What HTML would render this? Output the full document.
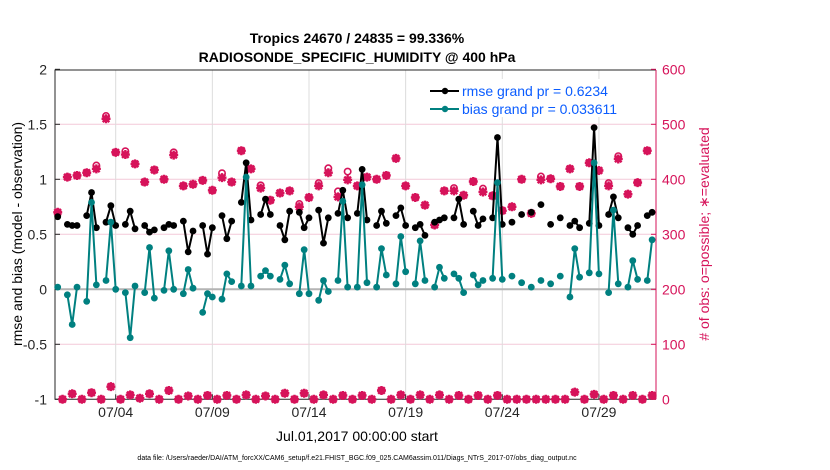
<!DOCTYPE html>
<html><head><meta charset="utf-8"><style>
body{margin:0;background:#fff;}
svg{display:block;font-family:"Liberation Sans",sans-serif;}
</style></head><body>
<svg id="chart" width="830" height="470" viewBox="0 0 830 470">
<text x="357" y="43" text-anchor="middle" font-size="14" font-weight="bold">Tropics 24670 / 24835 = 99.336%</text>
<text x="357" y="62" text-anchor="middle" font-size="14" font-weight="bold">RADIOSONDE_SPECIFIC_HUMIDITY @ 400 hPa</text>
<g id="grid"></g>
<g id="axes"></g>
<g id="marks"></g>
<text transform="translate(22,234) rotate(-90)" text-anchor="middle" font-size="14">rmse and bias (model - observation)</text>
<text transform="translate(709,234) rotate(-90)" text-anchor="middle" font-size="14" fill="#d6135a"># of obs: o=possible; ∗=evaluated</text>
<text x="357" y="441" text-anchor="middle" font-size="14">Jul.01,2017 00:00:00 start</text>
<text x="357" y="460" text-anchor="middle" font-size="7">data file: /Users/raeder/DAI/ATM_forcXX/CAM6_setup/f.e21.FHIST_BGC.f09_025.CAM6assim.011/Diags_NTrS_2017-07/obs_diag_output.nc</text>
<g>
<rect x="424" y="79" width="230" height="38" fill="#fff"/>
<line x1="430" y1="91" x2="459" y2="91" stroke="#000" stroke-width="2"/>
<circle cx="445" cy="91" r="3.2" fill="#000"/>
<text x="462" y="96" font-size="14" fill="#0a5cff">rmse grand pr = 0.6234</text>
<line x1="430" y1="109" x2="459" y2="109" stroke="#008080" stroke-width="2"/>
<circle cx="445" cy="109" r="3.2" fill="#008080"/>
<text x="462" y="114" font-size="14" fill="#0a5cff">bias grand pr = 0.033611</text>
</g>
</svg>
<script>
const N = null;
const rmse = [0.66,N,0.59,0.58,0.58,N,0.67,0.88,0.56,N,0.61,0.76,0.58,N,0.59,0.71,0.55,N,0.58,0.52,0.54,N,0.56,0.59,0.58,N,0.62,0.34,0.53,N,0.58,0.32,0.56,N,0.67,0.46,0.62,N,0.79,1.15,0.63,N,0.68,0.82,0.68,N,0.58,0.45,0.71,N,0.70,0.56,0.65,N,0.72,0.42,0.65,N,0.69,0.90,0.65,N,0.69,1.09,0.63,N,0.58,0.71,0.60,N,0.67,0.74,0.58,N,0.56,0.59,0.49,N,0.61,0.63,0.65,N,0.65,0.82,0.59,N,0.71,0.58,0.64,N,0.65,1.38,0.59,N,0.61,N,0.68,N,0.70,N,0.77,N,0.59,N,0.65,N,0.58,0.62,0.56,N,0.60,1.47,0.58,N,0.68,0.84,0.65,N,0.56,0.50,0.58,N,0.67,0.70];
const bias = [0.02,N,-0.05,-0.32,0.02,N,-0.11,0.79,0.04,N,0.08,0.61,0.00,N,-0.03,-0.44,0.03,N,-0.03,0.38,-0.08,N,-0.01,0.35,0.00,N,-0.04,0.18,0.01,N,-0.21,-0.04,-0.07,N,-0.09,0.14,0.07,N,0.03,1.02,0.03,N,0.12,0.17,0.12,N,0.09,0.22,0.05,N,-0.04,0.36,-0.04,N,-0.10,0.08,-0.02,N,0.08,0.80,0.02,N,0.02,0.95,0.06,N,0.02,0.37,0.13,N,0.05,0.48,0.16,N,0.05,0.44,0.08,N,0.02,0.20,0.10,N,0.14,0.10,-0.03,N,0.13,0.04,0.08,N,0.10,0.97,0.09,N,0.12,N,0.06,N,0.02,N,0.08,N,0.05,N,0.12,N,-0.07,0.37,0.11,N,0.15,1.15,0.14,N,-0.03,0.72,0.05,N,0.02,0.26,0.09,N,0.08,0.45];
const usedCount = [340,0,404,10,407,0,412,12,419,0,510,23,449,0,445,8,428,2,395,10,417,0,400,16,444,0,388,6,391,0,398,7,380,0,403,7,395,0,452,8,419,0,384,6,362,0,375,11,379,0,350,11,367,0,388,8,412,0,368,7,399,0,388,7,404,0,400,16,407,0,438,8,388,0,367,8,353,0,317,8,379,0,379,7,371,0,396,7,377,0,370,7,343,0,350,0,400,0,338,0,399,0,401,0,387,0,419,13,387,0,430,9,416,0,388,7,437,0,373,7,394,0,452,7];
const possibleCount = [340,0,404,10,407,0,412,12,425,0,515,23,449,0,451,8,428,2,395,10,417,0,400,16,449,0,388,6,391,0,398,7,380,0,411,7,395,0,452,8,419,0,389,6,362,0,375,11,379,0,355,11,367,0,393,8,420,0,378,7,414,0,388,7,404,0,400,16,407,0,438,8,388,0,367,8,353,0,317,8,379,0,384,7,371,0,396,7,383,0,370,7,343,0,350,0,400,0,338,0,405,0,401,0,387,0,419,13,387,0,430,9,416,0,393,7,442,0,373,7,394,0,452,7];
const xTickLabels = ["07/04","07/09","07/14","07/19","07/24","07/29"];
const xTickDays = [3,8,13,18,23,28];
const yTicksLeft = [-1,-0.5,0,0.5,1,1.5,2];
const yTicksRight = [0,100,200,300,400,500,600];

const X0=57.7, PX_DAY=19.33, L=55, R=656, T=70, B=399.3;
const xs = d => X0 + d*PX_DAY;
const xj = j => xs(j*0.25);
const yl = v => 289.3 - v*110;
const yr = c => B - c*0.55;
const NS="http://www.w3.org/2000/svg";
function mk(tag, attrs, parent){const e=document.createElementNS(NS,tag);for(const k in attrs)e.setAttribute(k,attrs[k]);parent.appendChild(e);return e;}
const grid=document.getElementById('grid'), axes=document.getElementById('axes'), marks=document.getElementById('marks');

yTicksLeft.forEach(v=>{
  if(v===0||v===-1||v===2) return;
  const g=mk('line',{x1:L,x2:R,y1:yl(v),y2:yl(v),stroke:'#f4c9d8','stroke-width':1},grid);
  
  
});
xTickDays.forEach(d=>{
  const g=mk('line',{x1:xs(d),x2:xs(d),y1:T,y2:B,stroke:'#dcdcdc','stroke-width':1},grid);
  
  
});
const zl=mk('line',{x1:L,x2:R,y1:yl(0),y2:yl(0),stroke:'#b4b4b4','stroke-width':2},grid);



const ax=mk('path',{d:`M${R} ${T} L${L} ${T} L${L} ${B} L${R} ${B}`,fill:'none',stroke:'#262626','stroke-width':1},axes);


const ra=mk('line',{x1:R,x2:R,y1:T,y2:B,stroke:'#d6135a','stroke-width':1},axes);


yTicksLeft.forEach(v=>{
  mk('line',{x1:L,x2:L+5,y1:yl(v),y2:yl(v),stroke:'#262626'},axes);
  const t=mk('text',{x:L-8,y:yl(v)+5,'text-anchor':'end','font-size':14,fill:'#262626'},axes);
  t.textContent=String(v);
  
  
});
yTicksRight.forEach(c=>{
  mk('line',{x1:R-5,x2:R,y1:yr(c),y2:yr(c),stroke:'#d6135a'},axes);
  const t=mk('text',{x:R+6,y:yr(c)+5,'font-size':14,fill:'#d6135a'},axes);
  t.textContent=String(c);
  
  
});
xTickDays.forEach((d,i)=>{
  mk('line',{x1:xs(d),x2:xs(d),y1:B,y2:B-5,stroke:'#262626'},axes);
  const t=mk('text',{x:xs(d),y:417,'text-anchor':'middle','font-size':14,fill:'#262626'},axes);
  t.textContent=xTickLabels[i];
  
  
});

const pink='#d6135a';
possibleCount.forEach((c,j)=>{
  if(c==null) return;
  const o=mk('circle',{cx:xj(j),cy:yr(c),r:3.2,fill:'none',stroke:pink,'stroke-width':1.6},marks);
  
  
});
usedCount.forEach((c,j)=>{
  if(c==null) return;
  const x=xj(j), y=yr(c), r=4.5;
  const g=mk('path',{d:`M${x-r} ${y}H${x+r}M${x} ${y-r}V${y+r}M${x-3.3} ${y-3.3}L${x+3.3} ${y+3.3}M${x-3.3} ${y+3.3}L${x+3.3} ${y-3.3}`,stroke:pink,'stroke-width':2.4,fill:'none'},marks);
  
  
  const d=mk('circle',{cx:x,cy:y,r:3.4,fill:pink},marks);
  
  
});

function series(vals,color,name){
  let d='',pen=false;
  vals.forEach((v,j)=>{
    if(v==null){pen=false;return;}
    d+=(pen?'L':'M')+xj(j).toFixed(1)+' '+yl(v).toFixed(1);
    pen=true;
  });
  const p=mk('path',{d:d,fill:'none',stroke:color,'stroke-width':2,'stroke-linejoin':'round'},marks);
  
  
  vals.forEach((v,j)=>{
    if(v==null) return;
    const c=mk('circle',{cx:xj(j),cy:yl(v),r:3.4,fill:color},marks);
    
    
  });
}
series(rmse,'#000','rmse');
series(bias,'#008080','bias');
</script>
</body></html>
